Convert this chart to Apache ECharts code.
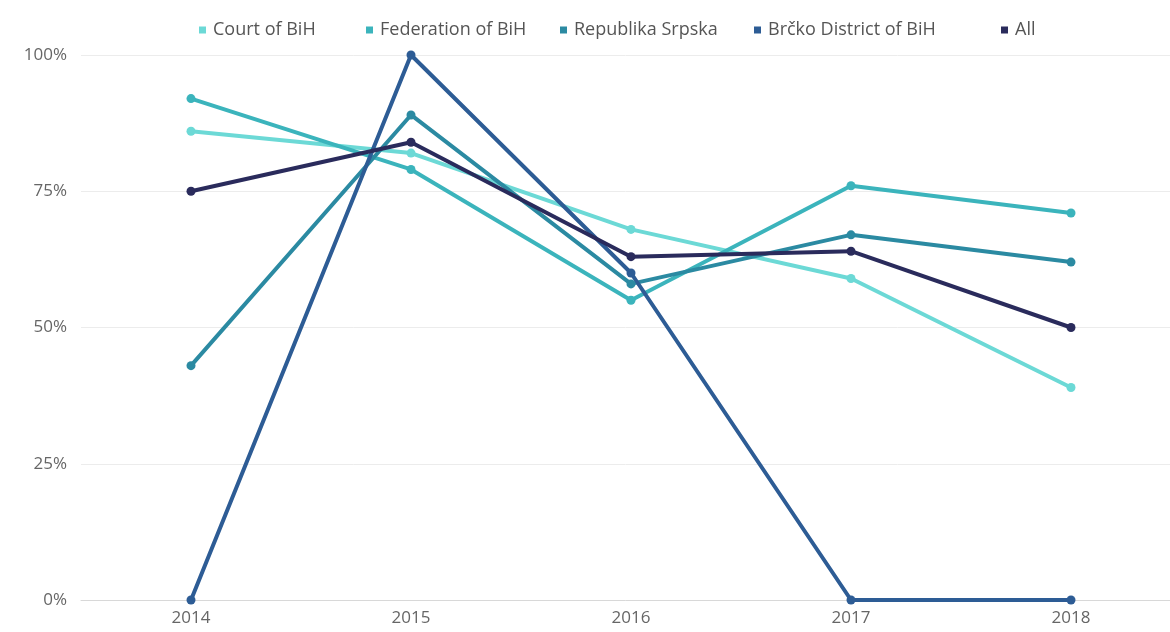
<!DOCTYPE html>
<html><head><meta charset="utf-8">
<script src="https://cdn.jsdelivr.net/npm/echarts@6/dist/echarts.min.js"></script>
<style>html,body{margin:0;padding:0;background:#fff}#c{width:1170px;height:632px}</style>
</head><body><div id="c"></div>
<script>
const years = [2014, 2015, 2016, 2017, 2018];
const courtOfBiH = [86, 82, 68, 59, 39];
const federationOfBiH = [92, 79, 55, 76, 71];
const republikaSrpska = [43, 89, 58, 67, 62];
const brckoDistrict = [0, 100, 60, 0, 0];
const allCourts = [75, 84, 63, 64, 50];
const seriesNames = ['Court of BiH','Federation of BiH','Republika Srpska','Brčko District of BiH','All'];
const yTicks = [0, 25, 50, 75, 100];
const colors = ['#6cd9d6','#3bb4bc','#2b8aa2','#2d5c95','#2a2b5c'];
const datasets = [courtOfBiH, federationOfBiH, republikaSrpska, brckoDistrict, allCourts];
const legendLeft = [194, 361, 555, 749, 996];

const chart = echarts.init(document.getElementById('c'));
chart.setOption({
  animation:false,
  color: colors,
  textStyle:{fontFamily:'Open Sans'},
  legend: seriesNames.map((n,i)=>({
    top:16, left:legendLeft[i], itemWidth:7, itemHeight:7, icon:'rect',
    textStyle:{fontSize:18, color:'#555', fontFamily:'Open Sans', padding:[0,0,0,2]},
    data:[n]
  })),
  grid:{left:81, top:55, right:0, height:545, containLabel:false},
  xAxis:{
    type:'value', min:years[0]-0.5, max:years[years.length-1]+0.45,
    axisLine:{lineStyle:{color:'#d8d8d8'}},
    axisTick:{show:false},
    splitLine:{show:false},
    axisLabel:{fontSize:17, color:'#666', margin:10, customValues:years, formatter:v=>String(v)}
  },
  yAxis:{
    type:'value', min:yTicks[0], max:yTicks[yTicks.length-1], interval:25,
    axisLine:{show:false}, axisTick:{show:false},
    splitLine:{lineStyle:{color:'#ececec'}},
    axisLabel:{fontSize:17, color:'#666', margin:14, formatter:'{value}%'}
  },
  series: datasets.map((d,i)=>({
    name: seriesNames[i], type:'line', data:d.map((v,j)=>[years[j], v]),
    symbol:'circle', symbolSize:9, lineStyle:{width:4}, itemStyle:{color:colors[i]}
  }))
});
</script></body></html>
